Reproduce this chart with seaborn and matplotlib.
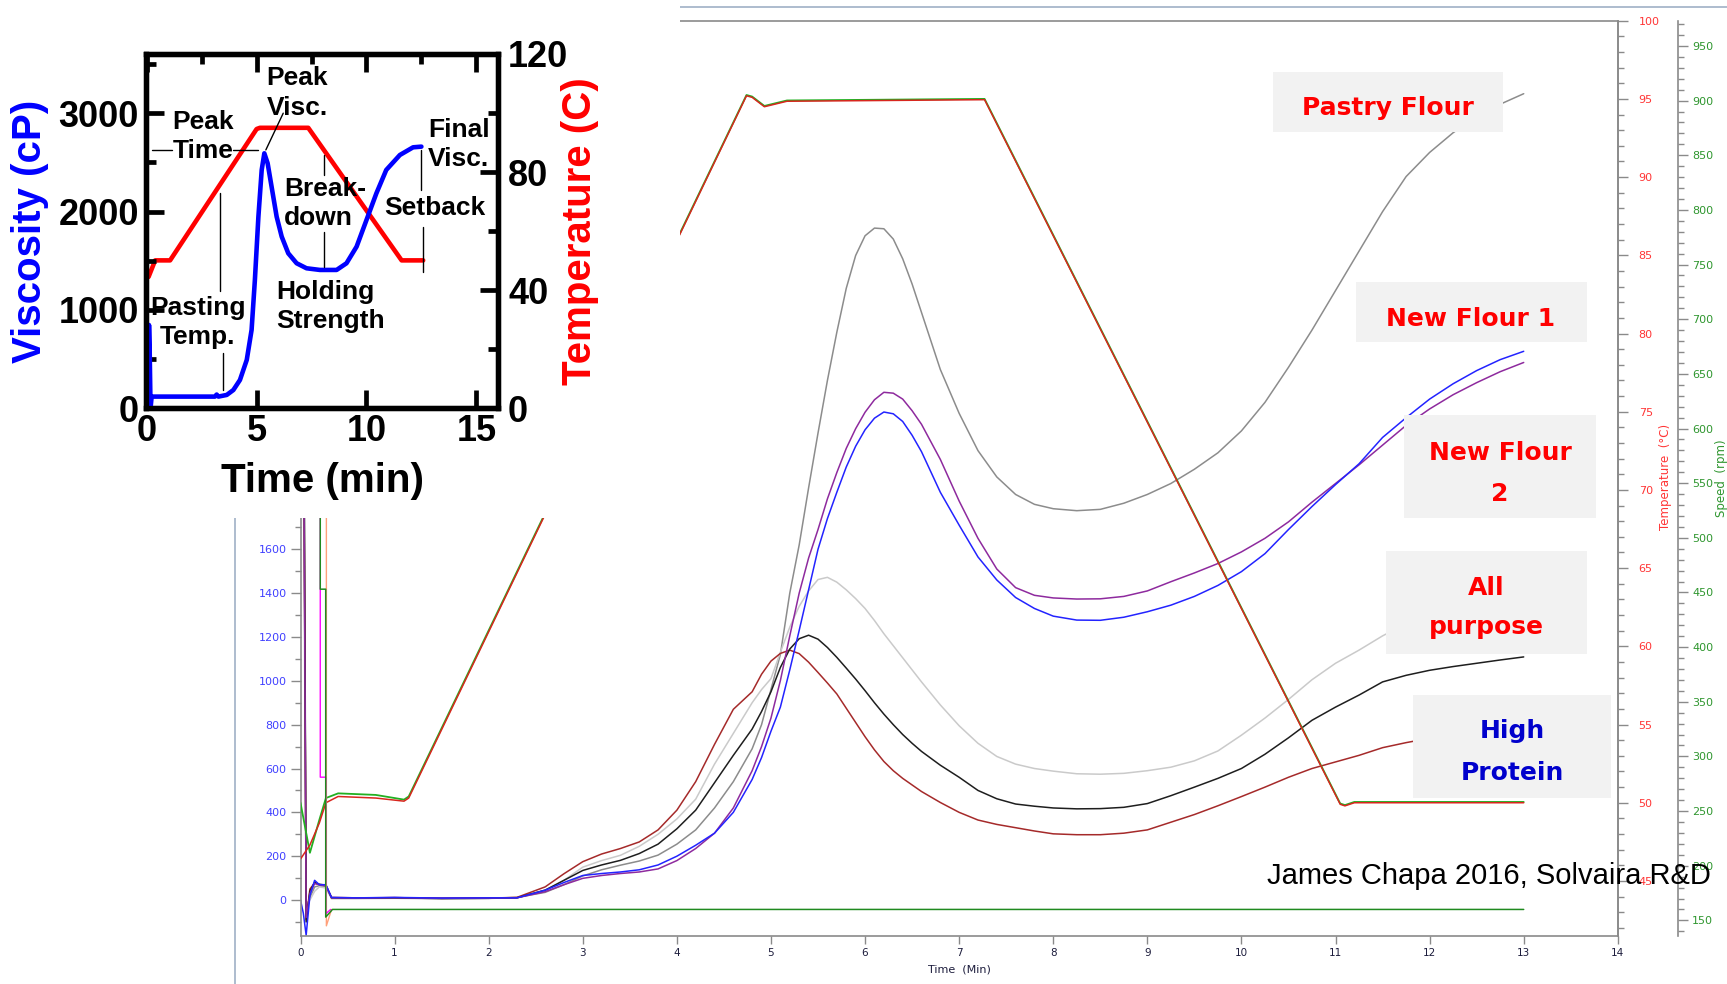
import matplotlib
matplotlib.use("Agg")
import matplotlib.pyplot as plt
import seaborn as sns
import numpy as np
from matplotlib.patches import Rectangle
from matplotlib.lines import Line2D
from matplotlib.ticker import MultipleLocator

W, H = 1727, 984

# ---- main RVA traces: viscosity (cP) vs time (min) ----
t_early = [0.0, 0.03, 0.06, 0.1, 0.15, 0.2, 0.27, 0.33, 0.6, 1.0, 1.5, 2.0]
t_main = [2.3, 2.6, 2.8,
          3.0, 3.2, 3.4, 3.6, 3.8, 4.0, 4.2, 4.4, 4.6, 4.8, 4.9,
          5.0, 5.1, 5.2, 5.3, 5.4, 5.5, 5.6, 5.7, 5.8, 5.9, 6.0, 6.1, 6.2, 6.3, 6.4, 6.5, 6.6,
          6.8, 7.0, 7.2, 7.4, 7.6, 7.8,
          8.0, 8.25, 8.5, 8.75, 9.0, 9.25, 9.5, 9.75, 10.0, 10.25, 10.5, 10.75,
          11.0, 11.25, 11.5, 11.75, 12.0, 12.25, 12.5, 12.75, 13.0]

pastry_early = [4000, 3000, -40, 10, 60, 65, 60, 8, 8, 10, 6, 8]
pastry_main = [12, 35, 70,
               110, 138, 159, 178, 205, 255, 320, 420, 540, 690, 800,
               960, 1120, 1400, 1620, 1880, 2130, 2370, 2590, 2790, 2940, 3030, 3065, 3062, 3015, 2925, 2810, 2680,
               2420, 2220, 2050, 1930, 1850, 1805,
               1785, 1776, 1782, 1810, 1850, 1900, 1965, 2040, 2140, 2270, 2430, 2600,
               2780, 2960, 3140, 3300, 3410, 3500, 3575, 3630, 3678]

purple_early = [4000, 2500, -80, 30, 75, 70, 65, 10, 9, 11, 8, 9]
purple_main = [10, 38, 70,
               99, 112, 121, 128, 142, 180, 235, 305, 420, 590, 700,
               830, 1001, 1205, 1400, 1560, 1690, 1830, 1950, 2060, 2150, 2225, 2282, 2316, 2312, 2285, 2232, 2170,
               2010, 1820, 1650, 1510, 1425, 1390,
               1378, 1373, 1374, 1385, 1410, 1452, 1492, 1535, 1588, 1650, 1725, 1815,
               1900, 1985, 2075, 2165, 2240, 2305, 2360, 2410, 2452]

blue_early = [0, -60, -160, 20, 90, 70, 70, 12, 10, 12, 9, 10]
blue_main = [10, 45, 80,
             112, 121, 128, 138, 160, 200, 250, 305, 400, 550, 650,
             770, 880, 1050, 1230, 1415, 1600, 1740, 1860, 1975, 2070, 2145, 2198, 2226, 2218, 2183, 2120, 2045,
             1860, 1710, 1565, 1460, 1380, 1330,
             1295, 1277, 1276, 1290, 1315, 1345, 1385, 1435, 1498, 1580, 1690, 1795,
             1895, 1990, 2110, 2200, 2285, 2355, 2415, 2465, 2503]

lgray_early = [3500, 2000, -20, 0, 40, 60, 55, 6, 6, 8, 5, 7]
lgray_main = [12, 45, 90,
              150, 180, 204, 245, 300, 370, 460, 620, 760, 900, 960,
              1010, 1130, 1245, 1340, 1410, 1462, 1472, 1450, 1415, 1375, 1330, 1275, 1215, 1160, 1105, 1050, 995,
              890, 795, 715, 655, 620, 600,
              588, 576, 574, 578, 590, 606, 635, 680, 752, 830, 915, 1005,
              1080, 1140, 1205, 1260, 1310, 1355, 1390, 1420, 1445]

black_early = [4000, 2800, -100, 40, 80, 72, 68, 10, 9, 10, 7, 8]
black_main = [10, 45, 90,
              135, 160, 181, 212, 255, 325, 410, 535, 660, 780, 860,
              950, 1061, 1145, 1192, 1208, 1190, 1152, 1107, 1058, 1008, 955, 900, 848, 800, 755, 715, 678,
              615, 560, 500, 462, 438, 428,
              420, 416, 417, 423, 440, 476, 515, 555, 600, 665, 740, 820,
              880, 935, 995, 1025, 1048, 1065, 1080, 1095, 1109]

brown_early = [4000, 2600, -90, 50, 78, 70, 66, 12, 10, 11, 8, 9]
brown_main = [12, 60, 120,
              175, 210, 235, 265, 320, 410, 540, 710, 870, 950, 1030,
              1090, 1125, 1140, 1124, 1085, 1038, 990, 940, 875, 810, 745, 685, 632, 590, 555, 525, 495,
              445, 400, 365, 345, 330, 315,
              302, 298, 298, 305, 320, 355, 390, 430, 472, 515, 560, 600,
              630, 660, 695, 718, 738, 756, 772, 786, 800]

# temperature traces (C)
temp_t = [0.0, 0.1, 0.2, 0.27, 0.4, 0.8, 1.1, 1.15, 4.74, 4.8, 4.93, 5.17, 7.27, 11.05, 11.1, 11.2, 13.0]
temp_red = [46.4, 47.3, 48.7, 50.0, 50.4, 50.3, 50.1, 50.3, 95.2, 95.1, 94.5, 94.85, 94.95, 49.9, 49.8, 50.0, 50.0]
temp_green = [50.0, 46.8, 48.9, 50.3, 50.6, 50.5, 50.2, 50.4, 95.25, 95.15, 94.55, 94.9, 95.0, 49.95, 49.85, 50.05, 50.05]

# paddle speed traces (rpm)
speed_t_a = [0.0, 0.21, 0.21, 0.268, 0.268, 0.34, 13.0]
speed_a = [960, 960, 453, 453, 153, 160, 160]
speed_t_b = [0.0, 0.21, 0.21, 0.268, 0.268, 0.32]
speed_b = [960, 960, 281, 281, 156, 160]
speed_t_c = [0.0, 0.275, 0.275, 0.33]
speed_c = [960, 960, 145, 160]

# ---- inset: idealised pasting curve ----
inset_t = [0.08, 0.1, 0.13, 0.17, 0.22, 1.0, 2.0, 3.1, 3.18, 3.26, 3.64, 3.94, 4.24, 4.55, 4.77,
           4.92, 5.08, 5.23, 5.35, 5.5, 5.68, 5.91, 6.14, 6.44, 6.82, 7.27, 7.88, 8.64, 9.09, 9.55,
           10.0, 10.45, 10.9, 11.52, 12.12, 12.5]
inset_visc = [0, 847, 600, 0, 119, 119, 119, 119, 140, 119, 136, 186, 288, 492, 797,
              1305, 1949, 2424, 2593, 2492, 2254, 1949, 1746, 1576, 1475, 1424, 1407, 1407, 1475, 1644,
              1915, 2186, 2424, 2576, 2654, 2661]
inset_temp_t = [0.08, 0.23, 0.38, 1.06, 5.0, 5.15, 7.35, 11.6, 12.58]
inset_temp = [44.5, 47.3, 50.1, 50.1, 94.6, 95.0, 95.0, 50.1, 50.1]

sns.set_style("ticks")
plt.rcParams['font.family'] = ['DejaVu Sans']

fig = plt.figure(figsize=(W / 100, H / 100), dpi=100)


def fx(x):
    return x / W


def fy(y):
    return 1 - y / H


def px_rect(x0, x1, y0, y1, **kw):
    return Rectangle((fx(x0), fy(y1)), (x1 - x0) / W, (y1 - y0) / H,
                     transform=fig.transFigure, **kw)


# ---------------- main chart ----------------
ax = fig.add_axes([fx(300.5), fy(936), (1617.8 - 300.5) / W, (936 - 20.7) / H])
ax_t = ax.twinx()
ax_s = ax.twinx()
ax_s.spines['right'].set_position(('axes', (1678.3 - 300.5) / (1617.8 - 300.5)))

t_visc = t_early + t_main
curves = [
    (pastry_early + pastry_main, '#8c8c8c'),
    (lgray_early + lgray_main, '#cacaca'),
    (brown_early + brown_main, '#a52a2a'),
    (black_early + black_main, '#1e1e1e'),
    (purple_early + purple_main, '#8e2a9e'),
    (blue_early + blue_main, '#2323ff'),
]
for vals, col in curves:
    sns.lineplot(x=t_visc, y=vals, ax=ax, color=col, linewidth=1.1,
                 estimator=None, sort=False, legend=False)

sns.lineplot(x=temp_t, y=temp_green, ax=ax_t, color='#22b022', linewidth=1.3,
             estimator=None, sort=False, legend=False)
sns.lineplot(x=temp_t, y=temp_red, ax=ax_t, color='#d8261e', linewidth=1.1,
             estimator=None, sort=False, legend=False)

sns.lineplot(x=speed_t_c, y=speed_c, ax=ax_s, color='#ffa07a', linewidth=1.0,
             estimator=None, sort=False, legend=False)
sns.lineplot(x=speed_t_b, y=speed_b, ax=ax_s, color='#ff00ff', linewidth=1.0,
             estimator=None, sort=False, legend=False)
sns.lineplot(x=speed_t_a, y=speed_a, ax=ax_s, color='#1f8a1f', linewidth=1.1,
             estimator=None, sort=False, legend=False)

ax.set_xlim(0, 14)
ax.set_ylim(-164, 4011)
ax_t.set_ylim(41.48, 100)
ax_s.set_ylim(135.7, 973.1)
for a in (ax, ax_t, ax_s):
    a.set_xlabel('')
    a.set_ylabel('')

spine_col = '#8a8a8a'
for sp in ax.spines.values():
    sp.set_color(spine_col)
    sp.set_linewidth(1.2)
for twin in (ax_t, ax_s):
    for name, sp in twin.spines.items():
        sp.set_visible(name == 'right')
        sp.set_color(spine_col)
        sp.set_linewidth(1.2)

ax.xaxis.set_major_locator(MultipleLocator(1))
ax.yaxis.set_major_locator(MultipleLocator(200))
ax.yaxis.set_minor_locator(MultipleLocator(100))
ax_t.yaxis.set_major_locator(MultipleLocator(5))
ax_t.yaxis.set_minor_locator(MultipleLocator(1))
ax_s.yaxis.set_major_locator(MultipleLocator(50))
ax_s.yaxis.set_minor_locator(MultipleLocator(10))

ax.tick_params(axis='x', which='major', length=6, width=1, color=spine_col,
               labelsize=7.5, labelcolor='#1c1c3c', pad=3)
ax.tick_params(axis='y', which='major', length=7, width=1, color=spine_col,
               labelsize=8, labelcolor='#4040ff', pad=3)
ax.tick_params(axis='y', which='minor', length=4, width=1, color=spine_col)
ax_t.tick_params(axis='y', which='major', length=7, width=1, color=spine_col,
                 labelsize=8, labelcolor='#ff3535', pad=8)
ax_t.tick_params(axis='y', which='minor', length=4, width=1, color=spine_col)
ax_s.tick_params(axis='y', which='major', length=7, width=1, color=spine_col,
                 labelsize=8, labelcolor='#2f962f', pad=3)
ax_s.tick_params(axis='y', which='minor', length=4, width=1, color=spine_col)

fig.text(fx(959), fy(970), 'Time  (Min)', ha='center', va='center', fontsize=8, color='#1c1c3c')
fig.text(fx(1665), fy(477), 'Temperature  (°C)', ha='center', va='center', rotation=90,
         fontsize=8.5, color='#ff3535')
fig.text(fx(1721), fy(478), 'Speed  (rpm)', ha='center', va='center', rotation=90,
         fontsize=8.5, color='#2f962f')

# panel border of the screenshot
border = '#9fb0c6'
fig.add_artist(Line2D([fx(234.6), fx(234.6)], [fy(518), fy(984)], transform=fig.transFigure,
                      color=border, linewidth=1.2, zorder=4))
fig.add_artist(Line2D([fx(680), fx(1727)], [fy(7.3), fy(7.3)], transform=fig.transFigure,
                      color=border, linewidth=1.2, zorder=4))

# sample labels
label_boxes = [
    ((1273, 1503, 72, 132), '#ff0000', [('Pastry Flour', 1388, 114.5)]),
    ((1356, 1587, 282, 342), '#ff0000', [('New Flour 1', 1471, 326)]),
    ((1404, 1596, 415, 518), '#ff0000', [('New Flour', 1500, 460), ('2', 1500, 501)]),
    ((1386, 1587, 551, 654), '#ff0000', [('All', 1486, 595), ('purpose', 1486, 634)]),
    ((1413, 1611, 695, 798), '#0000cc', [('High', 1512, 738), ('Protein', 1512, 780)]),
]
for (x0, x1, y0, y1), col, lines in label_boxes:
    fig.add_artist(px_rect(x0, x1, y0, y1, facecolor='#f2f2f2', edgecolor='none', zorder=4))
    for s, x, y in lines:
        fig.text(fx(x), fy(y), s, ha='center', va='baseline', fontsize=18,
                 fontweight='bold', color=col, zorder=5)

fig.text(fx(1489), fy(884), 'James Chapa 2016, Solvaira R&D', ha='center', va='baseline',
         fontsize=21, family=['Liberation Sans', 'DejaVu Sans'], color='black', zorder=9)

# ---------------- inset ----------------
fig.add_artist(px_rect(0, 680, 0, 518, facecolor='white', edgecolor='none', zorder=5))

ax_in = fig.add_axes([fx(145.7), fy(408.3), (498.3 - 145.7) / W, (408.3 - 54) / H])
ax_in2 = ax_in.twinx()
ax_in2.set_zorder(6)
ax_in.set_zorder(7)
ax_in.patch.set_visible(False)
ax_in2.patch.set_visible(False)

sns.lineplot(x=inset_temp_t, y=inset_temp, ax=ax_in2, color='#ff0000', linewidth=3.3,
             estimator=None, sort=False, legend=False)
sns.lineplot(x=inset_t, y=inset_visc, ax=ax_in, color='#0000ff', linewidth=3.3,
             estimator=None, sort=False, legend=False)

ax_in.set_xlim(-0.05, 16.0)
ax_in.set_ylim(0, 3603)
ax_in2.set_ylim(0, 120)
for a in (ax_in, ax_in2):
    a.set_xlabel('')
    a.set_ylabel('')
    for sp in a.spines.values():
        sp.set_visible(True)
        sp.set_color('black')
        sp.set_linewidth(3.8)

ax_in.xaxis.set_major_locator(MultipleLocator(5))
ax_in.xaxis.set_minor_locator(MultipleLocator(2.5))
ax_in.yaxis.set_major_locator(MultipleLocator(1000))
ax_in.yaxis.set_minor_locator(MultipleLocator(500))
ax_in2.yaxis.set_major_locator(MultipleLocator(40))
ax_in2.yaxis.set_minor_locator(MultipleLocator(20))

tick_font = {'family': ['Liberation Sans', 'DejaVu Sans'], 'weight': 'bold', 'size': 26}
ax_in.tick_params(axis='x', which='major', direction='in', length=13, width=3.4,
                  top=True, bottom=True, pad=4, color='black', labelcolor='black')
ax_in.tick_params(axis='x', which='minor', direction='in', length=7, width=3.4,
                  top=True, bottom=False, color='black')
ax_in.tick_params(axis='y', which='major', direction='in', length=13, width=3.4,
                  pad=5, color='black', labelcolor='black')
ax_in.tick_params(axis='y', which='minor', direction='in', length=7, width=3.4, color='black')
ax_in2.tick_params(axis='y', which='major', direction='in', length=13, width=3.4,
                   pad=7, color='black', labelcolor='black')
ax_in2.tick_params(axis='y', which='minor', direction='in', length=7, width=3.4, color='black')
for lab in ax_in.get_xticklabels() + ax_in.get_yticklabels() + ax_in2.get_yticklabels():
    lab.set_fontproperties(tick_font)

fig.text(fx(29.7), fy(231), 'Viscosity (cP)', rotation=90, ha='center', va='center',
         fontsize=29, fontweight='bold', color='#0000ff', family=['Liberation Sans', 'DejaVu Sans'], zorder=8)
fig.text(fx(580), fy(231), 'Temperature (C)', rotation=90, ha='center', va='center',
         fontsize=29, fontweight='bold', color='#ff0000', family=['Liberation Sans', 'DejaVu Sans'], zorder=8)
fig.text(fx(322.7), fy(481), 'Time (min)', ha='center', va='center',
         fontsize=29, fontweight='bold', color='black', family=['Liberation Sans', 'DejaVu Sans'], zorder=8)

# leader lines, tied to the curve features (peak = highest point before the hold ends)
early_part = [v if t < 7 else 0 for t, v in zip(inset_t, inset_visc)]
peak_i = int(np.argmax(early_part))
peak_t, peak_v = inset_t[peak_i], inset_visc[peak_i]
trough_v = min(inset_visc[peak_i:])
final_t, final_v = inset_t[-1], inset_visc[-1]

leaders = [
    ([0.23, 1.14], [peak_v + 30, peak_v + 30]),
    ([3.94, peak_t - 0.27], [peak_v + 30, peak_v + 30]),
    ([peak_t + 0.86, peak_t + 0.07], [peak_v + 408, peak_v + 35]),
    ([3.33, 3.33], [2190, 1190]),
    ([3.45, 3.45], [560, 190]),
    ([8.06, 8.06], [2577, 2373]),
    ([8.06, 8.06], [1797, trough_v + 25]),
    ([final_t, final_t], [final_v - 30, 2221]),
    ([final_t + 0.05, final_t + 0.05], [1847, 1390]),
]
for xs, ys in leaders:
    ax_in.plot(xs, ys, color='black', linewidth=1.0, zorder=4)

notes = [
    ('Peak', 5.45, 3356), ('Visc.', 5.45, 3051),
    ('Peak', 1.18, 2915), ('Time', 1.18, 2620),
    ('Break-', 6.26, 2227), ('down', 6.26, 1932),
    ('Holding', 5.91, 1186), ('Strength', 5.91, 892),
    ('Pasting', 0.15, 1017), ('Temp.', 0.58, 722),
    ('Setback', 10.79, 2034),
    ('Final', 12.8, 2830), ('Visc.', 12.8, 2532),
]
for s, x, y in notes:
    ax_in.text(x, y, s, ha='left', va='center', fontsize=19, zorder=5,
               fontweight='bold', family=['Liberation Sans', 'DejaVu Sans'], color='black')

fig.savefig('out.png', dpi=100)
